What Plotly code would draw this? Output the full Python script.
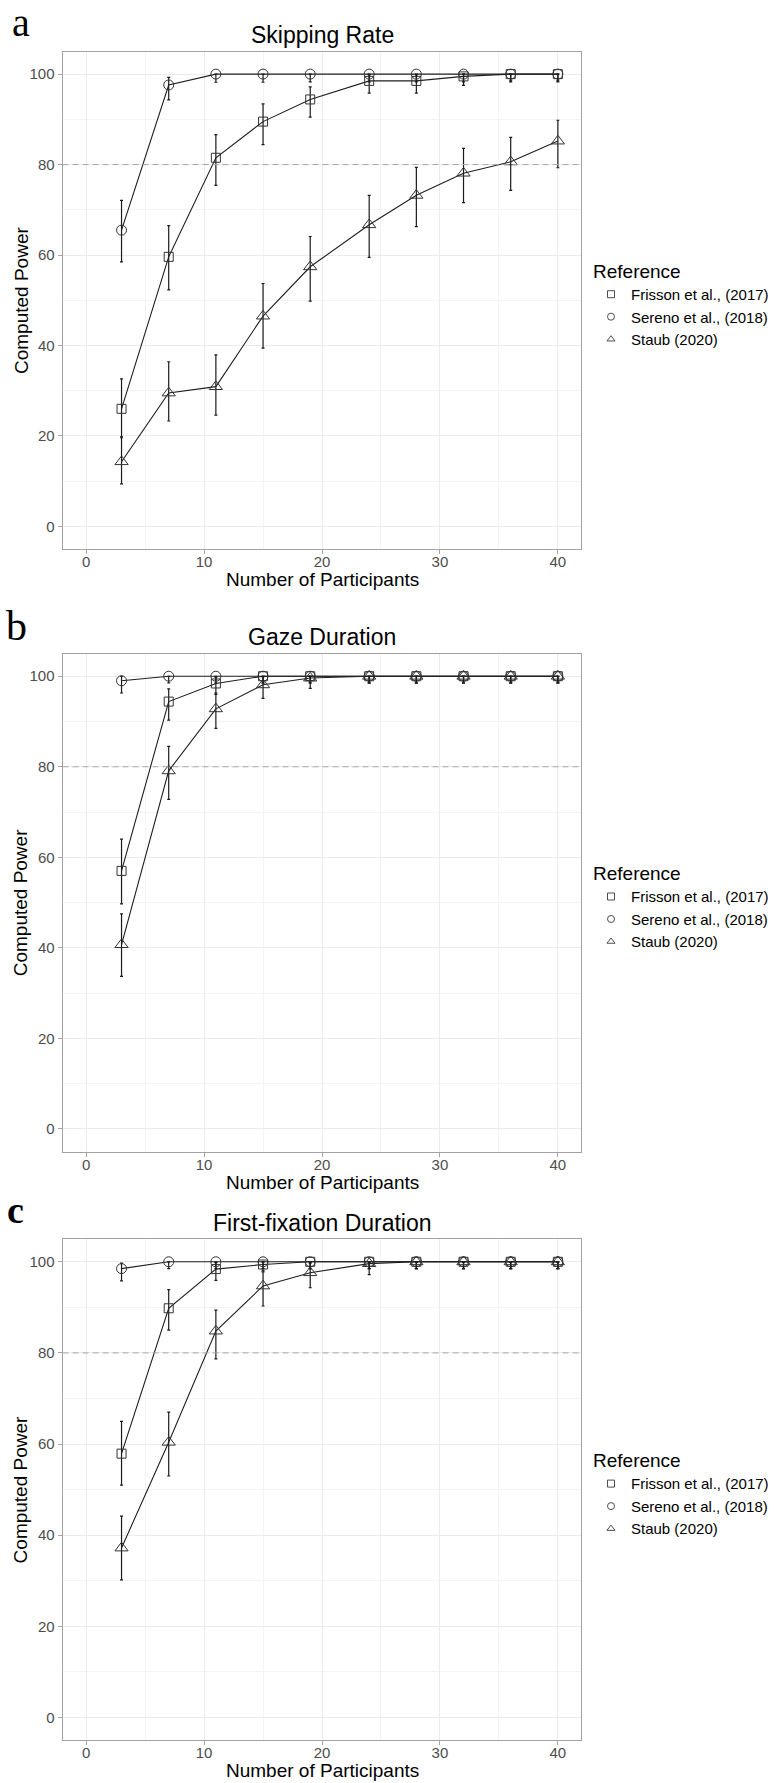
import plotly.graph_objects as go

# ---------------- data ----------------
participants = [3, 7, 11, 15, 19, 24, 28, 32, 36, 40]
references = ["Frisson et al., (2017)", "Sereno et al., (2018)", "Staub (2020)"]
panel_titles = ["Skipping Rate", "Gaze Duration", "First-fixation Duration"]
panel_letters = ["a", "b", "c"]
x_ticks = [0, 10, 20, 30, 40]
y_ticks = [0, 20, 40, 60, 80, 100]
threshold = 80

# Skipping rate
skip_frisson = [26.0, 59.6, 81.5, 89.5, 94.4, 98.5, 98.5, 99.5, 100, 100]
skip_frisson_lo = [19.8, 52.3, 75.4, 84.4, 90.5, 95.8, 95.8, 97.5, 98.5, 98.5]
skip_frisson_hi = [32.6, 66.5, 86.6, 93.4, 97.2, 99.8, 99.8, 100, 100, 100]
skip_sereno = [65.5, 97.6, 100, 100, 100, 100, 100, 100, 100, 100]
skip_sereno_lo = [58.5, 94.3, 98.2, 98.2, 98.3, 98.3, 98.3, 98.3, 98.3, 98.3]
skip_sereno_hi = [72.1, 99.3, 100, 100, 100, 100, 100, 100, 100, 100]
skip_staub = [14.3, 29.5, 30.9, 46.5, 57.4, 66.7, 73.2, 78.1, 80.6, 85.2]
skip_staub_lo = [9.4, 23.3, 24.6, 39.4, 49.8, 59.5, 66.3, 71.6, 74.3, 79.3]
skip_staub_hi = [19.6, 36.4, 37.9, 53.7, 64.1, 73.2, 79.4, 83.6, 86.0, 89.8]

# Gaze duration
gaze_frisson = [57.0, 94.4, 98.4, 100, 100, 100, 100, 100, 100, 100]
gaze_frisson_lo = [49.7, 90.3, 96.0, 98.5, 98.5, 98.5, 98.5, 98.5, 98.5, 98.5]
gaze_frisson_hi = [64.0, 97.2, 99.8, 100, 100, 100, 100, 100, 100, 100]
gaze_sereno = [99.0, 100, 100, 100, 100, 100, 100, 100, 100, 100]
gaze_sereno_lo = [96.3, 98.5, 98.5, 98.5, 98.5, 98.5, 98.5, 98.5, 98.5, 98.5]
gaze_sereno_hi = [100, 100, 100, 100, 100, 100, 100, 100, 100, 100]
gaze_staub = [40.7, 79.1, 92.8, 98.1, 99.6, 100, 100, 100, 100, 100]
gaze_staub_lo = [33.7, 72.8, 88.5, 95.1, 97.3, 98.5, 98.5, 98.5, 98.5, 98.5]
gaze_staub_hi = [47.5, 84.5, 96.3, 99.9, 100, 100, 100, 100, 100, 100]

# First-fixation duration
ffd_frisson = [57.9, 89.8, 98.4, 99.4, 100, 100, 100, 100, 100, 100]
ffd_frisson_lo = [51.0, 85.0, 95.9, 98.0, 98.5, 98.5, 98.5, 98.5, 98.5, 98.5]
ffd_frisson_hi = [65.0, 93.9, 99.8, 100, 100, 100, 100, 100, 100, 100]
ffd_sereno = [98.5, 100, 100, 100, 100, 100, 100, 100, 100, 100]
ffd_sereno_lo = [95.8, 98.5, 98.5, 98.5, 98.5, 98.5, 98.5, 98.5, 98.5, 98.5]
ffd_sereno_hi = [99.7, 100, 100, 100, 100, 100, 100, 100, 100, 100]
ffd_staub = [37.2, 60.4, 84.8, 94.7, 97.6, 99.6, 100, 100, 100, 100]
ffd_staub_lo = [30.2, 53.0, 78.7, 90.3, 94.3, 97.2, 98.5, 98.5, 98.5, 98.5]
ffd_staub_hi = [44.2, 67.0, 89.4, 97.8, 99.7, 100, 100, 100, 100, 100]

panels = [
    [(skip_frisson, skip_frisson_lo, skip_frisson_hi),
     (skip_sereno, skip_sereno_lo, skip_sereno_hi),
     (skip_staub, skip_staub_lo, skip_staub_hi)],
    [(gaze_frisson, gaze_frisson_lo, gaze_frisson_hi),
     (gaze_sereno, gaze_sereno_lo, gaze_sereno_hi),
     (gaze_staub, gaze_staub_lo, gaze_staub_hi)],
    [(ffd_frisson, ffd_frisson_lo, ffd_frisson_hi),
     (ffd_sereno, ffd_sereno_lo, ffd_sereno_hi),
     (ffd_staub, ffd_staub_lo, ffd_staub_hi)],
]

# ---------------- styling ----------------
W, H = 774, 1783
SANS = "Liberation Sans, Arial, sans-serif"
SERIF = "Liberation Serif, Times New Roman, serif"
symbols = ["square-open", "circle-open", "triangle-up-open"]
sizes = [9, 10, 11.5]
frame_left, frame_right = 63.3, 588.3
panel_px = [(51.5, 549.0), (653.6, 1151.5), (1239.0, 1740.3)]  # top, bottom in px

def py(px):
    return 1 - px / H

def pxx(px):
    return px / W

fig = go.Figure()
annotations = []
shapes = []
layout_axes = {}

for i, series in enumerate(panels):
    sfx = "" if i == 0 else str(i + 1)
    xa, ya = "x" + sfx, "y" + sfx
    legend_name = "legend" + sfx
    top, bot = panel_px[i]
    for j, (vals, lo, hi) in enumerate(series):
        fig.add_trace(go.Scatter(
            x=participants, y=vals, xaxis=xa, yaxis=ya,
            mode="lines+markers",
            line=dict(color="#1f1f1f", width=1.1),
            marker=dict(symbol=symbols[j], size=sizes[j],
                        color="#333333", line=dict(color="#333333", width=1)),
            error_y=dict(type="data", symmetric=False,
                         array=[h - v for h, v in zip(hi, vals)],
                         arrayminus=[v - l for v, l in zip(vals, lo)],
                         color="#1a1a1a", thickness=1.2, width=1.5),
            showlegend=False, hoverinfo="skip",
        ))
    for j, name in enumerate(references):
        fig.add_trace(go.Scatter(
            x=[None], y=[None], xaxis=xa, yaxis=ya, mode="markers", name=name,
            marker=dict(symbol=symbols[j], size=7, color="#4d4d4d",
                        line=dict(color="#4d4d4d", width=1)),
            legend=legend_name, showlegend=True,
        ))

    ax_common = dict(
        showline=True, mirror=True, linecolor="#a3a3a3", linewidth=1,
        ticks="outside", ticklen=4, tickcolor="#a3a3a3", tickwidth=1,
        tickfont=dict(family=SANS, size=15, color="#4d4d4d"),
        showgrid=True, gridcolor="#ebebeb", gridwidth=1, zeroline=False,
    )
    layout_axes["xaxis" + sfx] = dict(
        ax_common, domain=[pxx(frame_left), pxx(frame_right)], anchor=ya,
        range=[-2, 42], tickvals=x_ticks, ticklabelstandoff=-5,
        minor=dict(dtick=5, tick0=0, showgrid=True, gridcolor="#f4f4f4", gridwidth=1, ticks=""),
    )
    layout_axes["yaxis" + sfx] = dict(
        ax_common, domain=[py(bot), py(top)], anchor=xa,
        range=[-5, 105], tickvals=y_ticks,
        minor=dict(dtick=10, tick0=0, showgrid=True, gridcolor="#f4f4f4", gridwidth=1, ticks=""),
    )
    layout_axes[legend_name] = dict(
        title=dict(text="Reference", font=dict(family=SANS, size=19, color="#000000")),
        font=dict(family=SANS, size=15, color="#000000"),
        x=pxx(598), xanchor="left", y=py((top + bot) / 2 - 47), yanchor="top",
        bgcolor="rgba(0,0,0,0)", borderwidth=0, itemwidth=30,
    )

    shapes.append(dict(type="line", xref=xa + " domain", yref=ya, x0=0, x1=1,
                       y0=threshold, y1=threshold, layer="above",
                       line=dict(color="#a8a8a8", width=1, dash="6px,4px")))

    cx = pxx((frame_left + frame_right) / 2)
    annotations.append(dict(text=panel_titles[i], x=cx, y=py(top - 16.5), xref="paper", yref="paper",
                            xanchor="center", yanchor="middle", showarrow=False,
                            font=dict(family=SANS, size=23, color="#000000")))
    annotations.append(dict(text="Number of Participants", x=cx, y=py(bot + 30.6),
                            xref="paper", yref="paper", xanchor="center", yanchor="middle",
                            showarrow=False, font=dict(family=SANS, size=19, color="#000000")))
    annotations.append(dict(text="Computed Power", x=pxx(21), y=py((top + bot) / 2),
                            xref="paper", yref="paper", xanchor="center", yanchor="middle",
                            textangle=-90, showarrow=False,
                            font=dict(family=SANS, size=19, color="#000000")))

letter_pos = [(21, 23.0, 40, False), (16.5, 626.0, 42, False), (15.5, 1210.0, 38, True)]
for (lx, ly, ls, bold), letter in zip(letter_pos, panel_letters):
    annotations.append(dict(text=("<b>%s</b>" % letter) if bold else letter,
                            x=pxx(lx), y=py(ly), xref="paper", yref="paper",
                            xanchor="center", yanchor="middle", showarrow=False,
                            font=dict(family=SERIF, size=ls, color="#000000")))

fig.update_layout(
    width=W, height=H, margin=dict(l=0, r=0, t=0, b=0),
    paper_bgcolor="white", plot_bgcolor="white",
    annotations=annotations, shapes=shapes,
    **layout_axes,
)

fig.write_html("out.html", config={"displayModeBar": False},
               post_script="document.body.style.margin='0px';document.body.style.overflow='hidden';")
